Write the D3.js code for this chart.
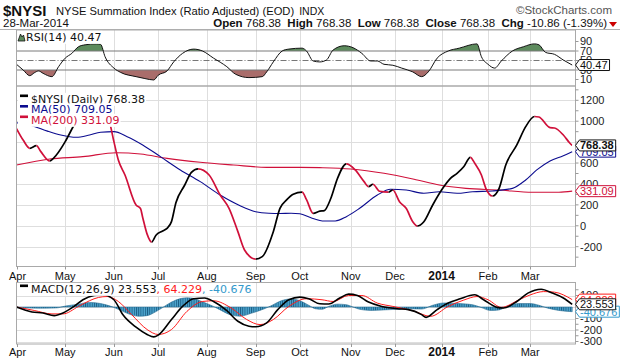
<!DOCTYPE html>
<html><head><meta charset="utf-8">
<script src="https://cdn.jsdelivr.net/npm/d3@7"></script>
<style>body{margin:0;background:#fff}svg{display:block}</style>
</head><body><svg id="c" width="620" height="360"></svg>
<script>
// ---------- DATA (trading-day index since 1-Apr-2013) ----------
const monthLabels = ["Apr","May","Jun","Jul","Aug","Sep","Oct","Nov","Dec","2014","Feb","Mar"];
const monthStartIdx = [0,22,44,64,86,108,128,151,171,192,213,232];

const nysiIdx = [0,3,6,9,11,15,18,22,26,29,32,35,38,42,44,46,49,54,56,57,59,61,63,66,68,70,72,76,79,82,87,92,96,100,103,108,111,116,119,122,125,129,131,134,137,139,142,145,149,153,157,159,161,164,168,170,173,176,179,181,184,188,192,196,199,202,205,207,210,212,215,218,221,226,230,234,236,241,243,247,250,251];
const nysiVal = [930,820,741,766,709,620,677,805,964,1070,1160,1200,1165,996,805,629,486,199,165,80,-80,-155,-90,-50,-25,40,220,390,511,545,486,294,167,-56,-231,-318,-295,-56,167,247,301,322,250,118,140,145,263,454,592,534,422,374,397,330,322,342,230,167,39,-2,39,199,342,454,502,565,655,598,486,358,285,358,581,773,948,1045,1040,938,935,868,789,768.38];

const ma50Idx = [0,7,14,20,27,33,38,44,50,57,65,74,83,92,101,108,114,119,124,128,133,139,144,149,155,163,169,176,184,191,199,206,215,224,230,235,241,247,251];
const ma50Val = [985,957,905,868,846,868,894,900,852,773,661,534,422,294,192,135,120,118,120,115,77,46,46,87,167,294,349,342,311,326,311,326,333,358,438,534,620,670,709.05];

const ma200Idx = [0,15,30,45,56,68,83,98,113,128,137,151,166,181,191,203,218,233,245,251];
const ma200Val = [581,639,661,699,687,645,607,581,559,559,556,543,502,438,390,358,342,320,320,331.09];

const rsiIdx = [0,3,6,8,10,12,16,19,22,25,28,31,36,38,40,44,47,54,58,62,64,68,71,75,80,84,89,95,99,105,111,113,116,120,123,129,131,134,137,140,143,148,152,156,160,163,166,170,174,179,183,186,190,195,200,208,210,213,216,219,224,229,234,236,239,243,247,251];
const rsiVal = [42,30,18,24,28,23,16,37,55,65,79,83,85,84,58,34,25,16,12,9,19,28,47,65,74,70,55,37,21,14,16,26,47,70,74,76,70,49,47,51,72,81,77,65,49,49,42,40,34,26,16,26,55,70,76,85,58,42,34,49,70,79,85,83,67,63,51,40.47];

const macdIdx = [0,7,12,17,21,26,30,35,39,44,48,54,59,62,64,70,75,80,85,89,95,100,105,108,113,118,123,128,132,137,141,146,150,154,159,165,172,177,183,185,190,195,200,207,211,217,220,226,231,237,242,247,251];
const macdVal = [0,-43,-52,-75,-52,5,63,100,106,63,-66,-176,-239,-260,-245,-109,5,72,78,48,-32,-124,-167,-172,-138,-23,63,86,72,28,26,78,112,100,43,5,-15,-23,-66,-90,-23,34,69,106,63,-3,-9,48,121,155,121,78,23.553];

const sigIdx = [0,8,16,21,28,33,37,41,46,52,59,64,70,77,84,89,97,104,110,116,123,131,138,143,150,156,163,170,179,187,195,202,208,213,219,227,232,238,243,251];
const sigVal = [0,-30,-60,-60,5,55,83,91,48,-66,-196,-239,-196,-38,48,54,-9,-109,-153,-109,5,72,63,48,100,100,34,5,-32,-81,5,60,91,63,-3,63,105,134,129,64.229];

const histIdx = [0,10,18,22,28,33,38,42,46,50,55,59,63,66,68,72,77,80,84,89,92,97,101,106,112,115,119,124,128,132,135,138,141,145,149,152,155,160,166,172,178,183,188,193,200,206,210,214,218,222,227,232,236,240,245,251];
const histVal = [-5,-10,-8,8,25,40,30,10,-20,-55,-80,-75,-40,-5,20,60,80,75,45,5,-25,-70,-80,-55,-15,10,50,70,55,15,-15,-20,5,25,20,0,-20,-30,-25,-20,-15,-18,15,35,30,20,-5,-30,-25,10,30,30,15,-10,-30,-40.676];

const rsiTicks = [90,70,50,30,10];
const priceGrid = [1200,1000,800,600,400,200,0,-200];
const priceTicks = [1200,1000,600,400,200,0,-200];
const macdGrid = [100,0,-100,-200,-300];
const macdTicks = [100,-100,-200,-300];

// ---------- SETUP ----------
const svg = d3.select("#c");
const AX = "'Liberation Sans', Arial, sans-serif";
const LG = "'DejaVu Sans', Verdana, sans-serif";
const X0 = 16.5, X1 = 575.5;
const x = d3.scaleLinear().domain([0, 252.5]).range([X0, X1]);
const P = {rsi:[30,86], main:[86,266.5], macd:[282.5,344]};
const yR = d3.scaleLinear().domain([10,90]).range([79.5,41.5]);
const yP = d3.scaleLinear().domain([-200,1200]).range([246.7,100.3]);
const yM = d3.scaleLinear().domain([-300,0]).range([341.5,307]);
const RED = "#d0103a", NAVY = "#0b0b8f";

const defs = svg.append("defs");
Object.entries(P).forEach(([k,[t,b]]) => {
  defs.append("clipPath").attr("id","clip-"+k).append("rect")
    .attr("x",X0).attr("y",t).attr("width",X1-X0).attr("height",b-t);
});
const step = x(1)-x(0);
const pat = defs.append("pattern").attr("id","histPat").attr("patternUnits","userSpaceOnUse")
  .attr("x",X0).attr("y",0).attr("width",step).attr("height",20);
pat.append("rect").attr("width",step).attr("height",20).attr("fill","#4ea6cf");
pat.append("rect").attr("width",0.9).attr("height",20).attr("fill","#1b5d84");

const zip = (ix, v) => ix.map((d,i)=>[d, v[i]]);

// ---------- HEADER ----------
svg.append("text").attr("x",3).attr("y",16).text("$NYSI")
  .style("font",`bold 15px ${AX}`).attr("fill","#111");
const ttl = svg.append("text").attr("x",56).attr("y",15).style("font",`11.2px ${AX}`).attr("fill","#111");
ttl.append("tspan").text("NYSE Summation Index (Ratio Adjusted) (EOD)");
ttl.append("tspan").attr("dx",5).text("INDX").style("font-size","10.5px");
svg.append("text").attr("x",612).attr("y",14).attr("text-anchor","end").text("\u00A9StockCharts.com")
  .style("font",`11.5px ${AX}`).attr("fill","#555");
svg.append("text").attr("x",3).attr("y",27).text("28-Mar-2014")
  .style("font",`11.5px ${AX}`).attr("fill","#111");
const hdr = svg.append("text").attr("x",607).attr("y",27).attr("text-anchor","end")
  .style("font",`11.5px ${AX}`).attr("fill","#111");
[["Open",true],[" 768.38  ",false],["High",true],[" 768.38  ",false],["Low",true],[" 768.38  ",false],
 ["Close",true],[" 768.38  ",false],["Chg",true],[" -10.86 (-1.39%)",false]].forEach(([t,b])=>{
  hdr.append("tspan").text(t).style("font-weight",b?"bold":"normal").attr("xml:space","preserve");
});
svg.append("path").attr("d","M609,22 L617,22 L613,27 Z").attr("fill","#cc0000");
svg.append("line").attr("x1",0).attr("x2",620).attr("y1",29.5).attr("y2",29.5).attr("stroke","#b0b0b0");

// ---------- GRIDS & FRAMES ----------
function grid(key, yScale, hvals){
  const [t,b] = P[key];
  const g = svg.append("g");
  g.selectAll(".v").data(monthStartIdx.slice(1)).join("line")
    .attr("x1",d=>Math.round(x(d))+0.5).attr("x2",d=>Math.round(x(d))+0.5)
    .attr("y1",t).attr("y2",b).attr("stroke","#dedede");
  if (hvals) g.selectAll(".h").data(hvals).join("line")
    .attr("x1",X0).attr("x2",X1).attr("y1",d=>Math.round(yScale(d))+0.5).attr("y2",d=>Math.round(yScale(d))+0.5)
    .attr("stroke","#dedede");
}
grid("rsi", yR, null);
grid("main", yP, priceGrid);
grid("macd", yM, macdGrid);

// ---------- RSI ----------
const gR = svg.append("g").attr("clip-path","url(#clip-rsi)");
const rsiData = zip(rsiIdx, rsiVal);
defs.append("clipPath").attr("id","clip-ob").append("rect").attr("x",X0).attr("y",P.rsi[0]).attr("width",X1-X0).attr("height",yR(70)-P.rsi[0]);
defs.append("clipPath").attr("id","clip-os").append("rect").attr("x",X0).attr("y",yR(30)).attr("width",X1-X0).attr("height",P.rsi[1]-yR(30));
gR.append("path").datum(rsiData).attr("clip-path","url(#clip-ob)")
  .attr("d", d3.area().curve(d3.curveMonotoneX).x(d=>x(d[0])).y0(yR(70)).y1(d=>yR(d[1])))
  .attr("fill","#5d8b5d");
gR.append("path").datum(rsiData).attr("clip-path","url(#clip-os)")
  .attr("d", d3.area().curve(d3.curveMonotoneX).x(d=>x(d[0])).y0(yR(30)).y1(d=>yR(d[1])))
  .attr("fill","#a96d6b");
[70,30].forEach(v=>gR.append("line").attr("x1",X0).attr("x2",X1).attr("y1",yR(v)).attr("y2",yR(v)).attr("stroke","#7a7a7a"));
gR.append("line").attr("x1",X0).attr("x2",X1).attr("y1",yR(50)).attr("y2",yR(50))
  .attr("stroke","#777").attr("stroke-dasharray","6,2,1,2");
gR.append("path").datum(rsiData)
  .attr("d", d3.line().curve(d3.curveMonotoneX).x(d=>x(d[0])).y(d=>yR(d[1])))
  .attr("fill","none").attr("stroke","#111").attr("stroke-width",1);

// ---------- MAIN ----------
const gP = svg.append("g").attr("clip-path","url(#clip-main)");
const lineP = d3.line().curve(d3.curveMonotoneX).x(d=>x(d[0])).y(d=>yP(d[1]));
gP.append("path").datum(zip(ma200Idx, ma200Val)).attr("d",lineP).attr("fill","none").attr("stroke",RED).attr("stroke-width",1.1);
gP.append("path").datum(zip(ma50Idx, ma50Val)).attr("d",lineP).attr("fill","none").attr("stroke",NAVY).attr("stroke-width",1.1);
// price line colored by direction
const upCl = defs.append("clipPath").attr("id","clip-up");
const dnCl = defs.append("clipPath").attr("id","clip-dn");
for (let i=1;i<nysiIdx.length;i++){
  const cl = nysiVal[i] >= nysiVal[i-1] ? upCl : dnCl;
  cl.append("rect").attr("x",x(nysiIdx[i-1])).attr("y",0)
    .attr("width",x(nysiIdx[i])-x(nysiIdx[i-1])+0.01).attr("height",360);
}
const nysiData = zip(nysiIdx, nysiVal);
gP.append("path").datum(nysiData).attr("clip-path","url(#clip-up)").attr("d",lineP)
  .attr("fill","none").attr("stroke","#000").attr("stroke-width",1.7);
gP.append("path").datum(nysiData).attr("clip-path","url(#clip-dn)").attr("d",lineP)
  .attr("fill","none").attr("stroke",RED).attr("stroke-width",1.7);

// ---------- MACD ----------
const gM = svg.append("g").attr("clip-path","url(#clip-macd)");
gM.append("path").datum(zip(histIdx, histVal))
  .attr("d", d3.area().curve(d3.curveMonotoneX).x(d=>x(d[0])).y0(yM(0)).y1(d=>yM(d[1])))
  .attr("fill","url(#histPat)").attr("stroke","#2a6d92").attr("stroke-width",0.6);
const lineM = d3.line().curve(d3.curveMonotoneX).x(d=>x(d[0])).y(d=>yM(d[1]));
gM.append("path").datum(zip(sigIdx, sigVal)).attr("d",lineM).attr("fill","none").attr("stroke","#ff1a1a").attr("stroke-width",1);
gM.append("path").datum(zip(macdIdx, macdVal)).attr("d",lineM).attr("fill","none").attr("stroke","#000").attr("stroke-width",1.6);

// frames
Object.values(P).forEach(([t,b])=>{
  svg.append("rect").attr("x",X0).attr("y",t).attr("width",X1-X0).attr("height",b-t)
    .attr("fill","none").attr("stroke","#a9a9a9");
});

// ---------- AXES ----------
function rightAxis(scale, ticks, minor){
  const g = svg.append("g");
  g.selectAll("line.mi").data(minor).join("line").attr("x1",X1).attr("x2",X1+3)
    .attr("y1",d=>scale(d)).attr("y2",d=>scale(d)).attr("stroke","#999");
  g.selectAll("text").data(ticks).join("text").attr("x",580).attr("y",d=>scale(d)).attr("dy","0.35em")
    .text(d=>d).style("font",`11px ${AX}`).attr("fill","#222");
}
rightAxis(yR, rsiTicks, [90,70,50,30,10]);
rightAxis(yP, priceTicks, d3.range(-300,1301,100));
rightAxis(yM, macdTicks, d3.range(-300,151,50));

function timeAxis(yTop, yText){
  const g = svg.append("g");
  g.selectAll("line").data(monthStartIdx).join("line")
    .attr("x1",d=>Math.round(x(d))+0.5).attr("x2",d=>Math.round(x(d))+0.5)
    .attr("y1",yTop).attr("y2",yTop+3).attr("stroke","#999");
  g.selectAll("text").data(monthLabels).join("text")
    .attr("x",(d,i)=>x(monthStartIdx[i])+(i===0?1:0)).attr("y",yText).attr("text-anchor","middle")
    .text(d=>d).style("font",d=>d==="2014"?`bold 12px ${AX}`:`11px ${AX}`).attr("fill","#111");
}
timeAxis(P.main[1], 280);
timeAxis(P.macd[1], 356);

// ---------- LEGENDS ----------
function legendRow(xs, y, parts, icon){
  const g = svg.append("g");
  const bg = g.append("rect").attr("fill","#fff");
  if (icon) g.append("rect").attr("x",xs).attr("y",y-4.5).attr("width",8).attr("height",2.6).attr("fill",icon);
  const t = g.append("text").attr("x",xs+(icon?11:0)).attr("y",y).attr("dy","0.35em").style("font",`11px ${LG}`);
  parts.forEach(([s,c])=>t.append("tspan").text(s).attr("fill",c));
  const bb = t.node().getBBox();
  bg.attr("x",xs-2).attr("y",bb.y).attr("width",bb.x+bb.width-xs+3).attr("height",bb.height);
  return g;
}
legendRow(26, 37, [["RSI(14) 40.47","#111"]], null);
svg.append("path").attr("d","M18,41 L20.5,34 L22,37 L23.5,35 L25,41 Z").attr("fill","#5d8b5d").attr("stroke","#111").attr("stroke-width",0.8);
legendRow(20, 99, [["$NYSI (Daily) 768.38","#111"]], "#000");
legendRow(20, 109.5, [["MA(50) 709.05",NAVY]], NAVY);
legendRow(20, 120, [["MA(200) 331.09",RED]], RED);
legendRow(20, 289, [["MACD(12,26,9) 23.553","#111"],[", 64.229","#ff1a1a"],[", -40.676","#3399cc"]], "#000");

// ---------- VALUE TAGS ----------
function tag(yv, txt, stroke, fill, bold){
  const g = svg.append("g");
  const p = g.append("path");
  const t = g.append("text").attr("x",580).attr("y",yv).attr("dy","0.36em").text(txt)
    .style("font",`${bold?"bold ":""}11px ${AX}`).attr("fill",fill);
  const w = t.node().getComputedTextLength();
  const h = 5.5, L = X1, R = 580+w+2;
  p.attr("d",`M${L},${yv} L${L+4},${yv-h} L${R},${yv-h} L${R},${yv+h} L${L+4},${yv+h} Z`)
    .attr("fill","#fff").attr("stroke",stroke).attr("stroke-width",1);
}
tag(yR(40.47), "40.47", "#111", "#111", false);
tag(yP(709.05), "709.05", NAVY, NAVY, false);
tag(yP(768.38), "768.38", "#111", "#111", true);
tag(yP(331.09), "331.09", RED, RED, false);
tag(yM(64.229), "64.229", "#ff1a1a", "#ff1a1a", false);
tag(yM(-40.676), "-40.676", "#3399cc", "#3399cc", false);
tag(yM(23.553), "23.553", "#111", "#111", false);
</script></body></html>
